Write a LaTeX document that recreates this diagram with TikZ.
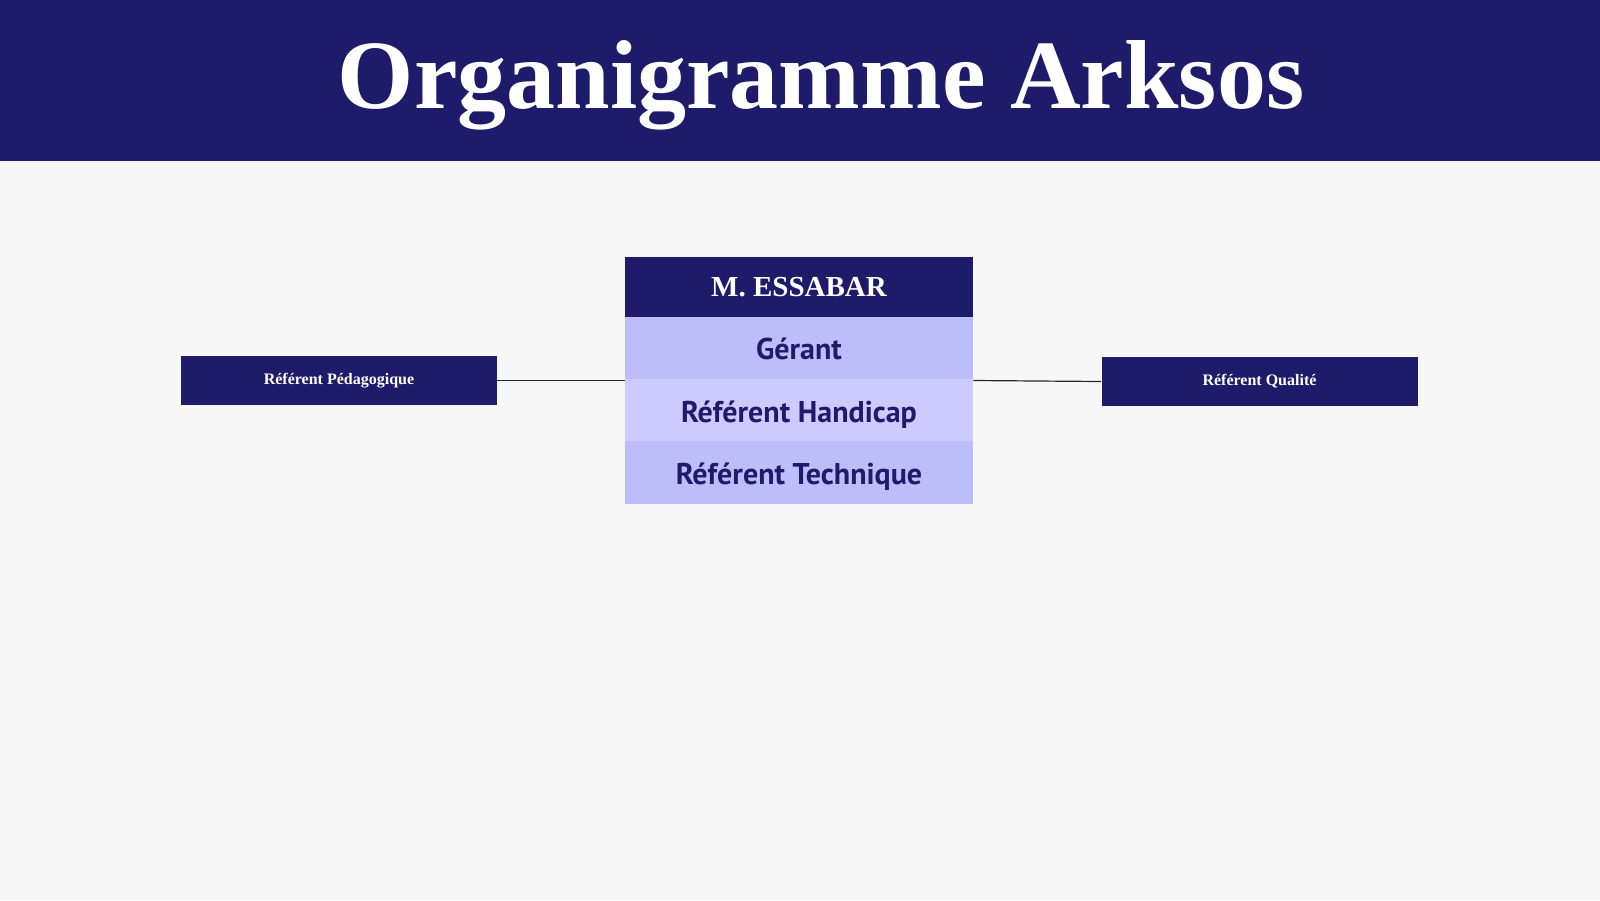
\documentclass[tikz,border=0pt]{standalone}
\usepackage{fontspec}
\setmainfont{Liberation Serif}
\newfontfamily\rowfont{PT Sans}
\usetikzlibrary{positioning}

\definecolor{navy}{RGB}{30,27,107}
\definecolor{lilac}{RGB}{189,189,250}
\definecolor{lilaclight}{RGB}{203,203,254}
\definecolor{paper}{RGB}{247,247,247}

\begin{document}
\begin{tikzpicture}[x = 0.5pt, y = -0.5pt]
	\tikzstyle{headStyle}=[fill = navy, text = white, minimum width = 174pt, minimum height = 30pt, inner sep = 0pt, font = \bfseries\fontsize{14.5}{14.5}\selectfont]
	\tikzstyle{rowStyle}=[fill = lilac, text = navy, minimum width = 174pt, minimum height = 31.5pt, inner sep = 0pt, text height = 12pt, text depth = 0.5pt, font = \rowfont\bfseries\fontsize{15}{15}\selectfont]
	\tikzstyle{refStyle}=[fill = navy, text = white, minimum width = 158pt, minimum height = 24.5pt, inner sep = 0pt, font = \bfseries\fontsize{8}{8}\selectfont]
	\tikzstyle{linkStyle}=[draw = black!85, line width = 0.6pt]
	\useasboundingbox[fill = paper] (0,0) rectangle (1600,900);
	\fill[navy] (0,0) rectangle (1600,161);
	\node[text = white, font = \bfseries\fontsize{49}{49}\selectfont, anchor = base] (title) at (821,108) {Organigramme Arksos};
	\node[headStyle] (boss) at (799,287) {M. ESSABAR};
	\node[rowStyle] (gerant) at (799,348) {Gérant};
	\node[rowStyle, fill = lilaclight] (handicap) at (799,410.5) {Référent Handicap};
	\node[rowStyle] (technique) at (799,472.5) {Référent Technique};
	\node[refStyle] (peda) at (339,380.5) {Référent Pédagogique};
	\node[refStyle] (qualite) at (1259.5,381.5) {Référent Qualité};
	\draw[linkStyle] (peda.east) -- (peda.east -| gerant.west);
	\draw[linkStyle] (gerant.east |- peda.east) -- (qualite.west);
\end{tikzpicture}
\end{document}
